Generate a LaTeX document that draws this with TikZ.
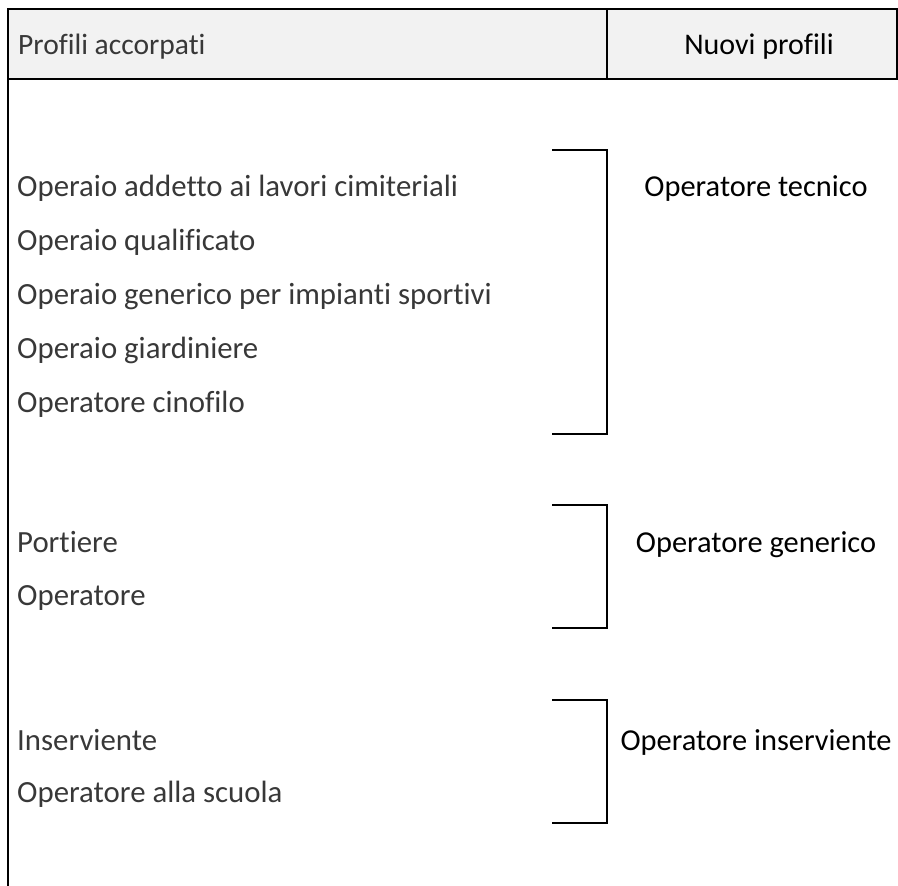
\documentclass[tikz,border=0pt]{standalone}
\usepackage{fontspec}
\setmainfont{Carlito}[Ligatures=NoCommon]
\definecolor{hdrgray}{HTML}{F2F2F2}
\begin{document}
\begin{tikzpicture}[x=1pt,y=-1pt,
  rule/.style={line width=2pt,black},
  brk/.style={line width=1.7pt,black},
  lefttxt/.style={anchor=base west,inner sep=0pt,font=\fontsize{30.8}{36}\selectfont,text=black!78},
  hdrtxt/.style={anchor=base west,inner sep=0pt,font=\fontsize{29.5}{36}\selectfont,text=black!78},
  righttxt/.style={anchor=base,inner sep=0pt,font=\fontsize{30.4}{36}\selectfont,text=black}]
\useasboundingbox (0,0) rectangle (898,886);
% header
\fill[hdrgray] (8,9) rectangle (897,79);
\draw[rule] (8,9) -- (897,9);
\draw[rule] (7,79) -- (897,79);
\draw[rule] (607,9) -- (607,79);
\draw[rule] (897,8) -- (897,80);
\draw[rule] (8,8) -- (8,886);
\node[hdrtxt] (h1) at (18,54) {Profili accorpati};
\node[righttxt,font=\fontsize{30}{36}\selectfont] (h2) at (759,54) {Nuovi profili};
% group 1
\node[lefttxt] (a1) at (17,196) {Operaio addetto ai lavori cimiteriali};
\node[lefttxt] (a2) at (17,250) {Operaio qualificato};
\node[lefttxt] (a3) at (17,304) {Operaio generico per impianti sportivi};
\node[lefttxt] (a4) at (17,358) {Operaio giardiniere};
\node[lefttxt] (a5) at (17,412) {Operatore cinofilo};
\draw[brk] (552,150) -- (607,150) -- (607,434) -- (552,434);
\node[righttxt] (r1) at (756,196) {Operatore tecnico};
% group 2
\node[lefttxt] (b1) at (17,552) {Portiere};
\node[lefttxt] (b2) at (17,605) {Operatore};
\draw[brk] (552,505) -- (607,505) -- (607,628) -- (552,628);
\node[righttxt] (r2) at (756,552) {Operatore generico};
% group 3
\node[lefttxt] (c1) at (17,750) {Inserviente};
\node[lefttxt] (c2) at (17,802) {Operatore alla scuola};
\draw[brk] (552,700) -- (607,700) -- (607,823) -- (552,823);
\node[righttxt] (r3) at (756,750) {Operatore inserviente};
\end{tikzpicture}
\end{document}
